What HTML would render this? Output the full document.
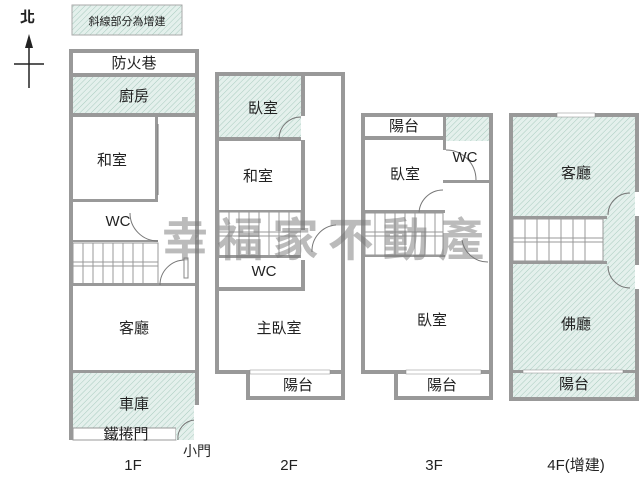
<!DOCTYPE html>
<html><head><meta charset="utf-8"><style>
html,body{margin:0;padding:0;background:#fff;}
svg{display:block;}
text{font-family:"Liberation Sans","Noto Sans CJK TC",sans-serif;fill:#222;}
</style></head><body>
<svg width="640" height="480" viewBox="0 0 640 480" xmlns="http://www.w3.org/2000/svg">
<defs>
<pattern id="h" width="4" height="4" patternUnits="userSpaceOnUse" patternTransform="rotate(45)">
<rect width="4" height="4" fill="#e4f0ec"/><line x1="0" y1="0" x2="0" y2="4" stroke="#a9cbbf" stroke-width="1"/>
</pattern>
</defs>

<!-- north arrow -->
<text x="20" y="22" font-size="15" font-weight="bold">北</text>
<line x1="29" y1="38" x2="29" y2="88" stroke="#222" stroke-width="1.5"/>
<polygon points="29,34 25,48 33,48" fill="#222"/>
<line x1="14" y1="64" x2="44" y2="64" stroke="#222" stroke-width="1.5"/>

<!-- legend -->
<rect x="72" y="5" width="110" height="30" fill="url(#h)" stroke="#aaa"/>
<text x="127" y="25" font-size="11" text-anchor="middle" fill="#333">斜線部分為增建</text>

<!-- ===== 1F ===== -->
<rect x="69" y="49" width="130" height="391" fill="#999"/>
<rect x="73" y="53" width="122" height="20" fill="#fff"/>
<rect x="73" y="77" width="122" height="36" fill="url(#h)"/>
<rect x="73" y="117" width="122" height="169" fill="#fff"/>
<rect x="155" y="117" width="3" height="82" fill="#999"/>
<rect x="73" y="199" width="85" height="3" fill="#999"/>
<rect x="73" y="240" width="85" height="2" fill="#999"/>
<line x1="158" y1="124" x2="158" y2="195" stroke="#777" stroke-width="1"/>
<rect x="73" y="243" width="85" height="42" fill="#fff" stroke="#999" stroke-width="1"/>
<g stroke="#999" stroke-width="1">
<line x1="73" y1="262" x2="158" y2="262"/><line x1="73" y1="266" x2="158" y2="266"/>
<line x1="83" y1="243" x2="83" y2="285"/><line x1="93" y1="243" x2="93" y2="285"/><line x1="103" y1="243" x2="103" y2="285"/>
<line x1="113" y1="243" x2="113" y2="285"/><line x1="123" y1="243" x2="123" y2="285"/><line x1="133" y1="243" x2="133" y2="285"/><line x1="143" y1="243" x2="143" y2="285"/>
</g>
<rect x="73" y="283" width="122" height="3" fill="#999"/>
<rect x="73" y="286" width="122" height="84" fill="#fff"/>
<path d="M158 241 A28 28 0 0 1 130 213" fill="none" stroke="#777"/>
<path d="M160 285 A25 25 0 0 1 185 260" fill="none" stroke="#777"/>
<rect x="184" y="258" width="4" height="20" fill="#fff" stroke="#888"/>
<rect x="73" y="373" width="122" height="56" fill="url(#h)"/>
<rect x="73" y="428" width="103" height="12" fill="#fff" stroke="#999"/>
<rect x="176" y="425" width="19" height="15" fill="url(#h)"/>
<path d="M178 440 A18 18 0 0 1 195 420" fill="none" stroke="#777"/>
<rect x="194" y="405" width="5" height="35" fill="#fff"/>
<text x="134" y="68" font-size="15" text-anchor="middle">防火巷</text>
<text x="134" y="101" font-size="15" text-anchor="middle">廚房</text>
<text x="112" y="165" font-size="15" text-anchor="middle">和室</text>
<text x="118" y="226" font-size="15" text-anchor="middle">WC</text>
<text x="134" y="333" font-size="15" text-anchor="middle">客廳</text>
<text x="134" y="409" font-size="15" text-anchor="middle">車庫</text>
<text x="126" y="439" font-size="15" text-anchor="middle">鐵捲門</text>
<text x="197" y="456" font-size="14" text-anchor="middle">小門</text>
<text x="133" y="470" font-size="15" text-anchor="middle">1F</text>

<!-- ===== 2F ===== -->
<rect x="215" y="72" width="130" height="302" fill="#999"/>
<rect x="219" y="76" width="122" height="294" fill="#fff"/>
<rect x="219" y="76" width="82" height="61" fill="url(#h)"/>
<rect x="301" y="76" width="4" height="215" fill="#999"/>
<rect x="219" y="137" width="86" height="4" fill="#999"/>
<rect x="301" y="116" width="4" height="24" fill="#fff"/>
<path d="M301 117 A22 22 0 0 0 279 139" fill="none" stroke="#777"/>
<rect x="219" y="210" width="86" height="2" fill="#999"/>
<rect x="219" y="212" width="82" height="44" fill="#fff" stroke="#999"/>
<g stroke="#999" stroke-width="1">
<line x1="219" y1="232" x2="301" y2="232"/><line x1="219" y1="236" x2="301" y2="236"/>
<line x1="229" y1="212" x2="229" y2="256"/><line x1="239" y1="212" x2="239" y2="256"/><line x1="249" y1="212" x2="249" y2="256"/><line x1="259" y1="212" x2="259" y2="256"/><line x1="269" y1="212" x2="269" y2="256"/><line x1="279" y1="212" x2="279" y2="256"/><line x1="289" y1="212" x2="289" y2="256"/>
</g>
<rect x="219" y="255" width="86" height="3" fill="#999"/>
<rect x="219" y="287" width="86" height="4" fill="#999"/>
<rect x="301" y="230" width="4" height="30" fill="#fff"/>
<path d="M336 225 A26 26 0 0 0 312 252" fill="none" stroke="#777"/>
<rect x="246" y="370" width="99" height="30" fill="#999"/>
<rect x="250" y="374" width="91" height="22" fill="#fff"/>
<rect x="250" y="370" width="80" height="4" fill="#fff" stroke="#888" stroke-width="0.5"/>
<text x="263" y="113" font-size="15" text-anchor="middle">臥室</text>
<text x="258" y="181" font-size="15" text-anchor="middle">和室</text>
<text x="264" y="276" font-size="15" text-anchor="middle">WC</text>
<text x="279" y="333" font-size="15" text-anchor="middle">主臥室</text>
<text x="298" y="390" font-size="15" text-anchor="middle">陽台</text>
<text x="289" y="470" font-size="15" text-anchor="middle">2F</text>

<!-- ===== 3F ===== -->
<rect x="361" y="113" width="132" height="261" fill="#999"/>
<rect x="365" y="117" width="124" height="253" fill="#fff"/>
<rect x="443" y="117" width="3" height="66" fill="#999"/>
<rect x="365" y="136" width="78" height="4" fill="#999"/>
<rect x="446" y="117" width="43" height="24" fill="url(#h)"/>
<rect x="446" y="180" width="43" height="3" fill="#999"/>
<rect x="443" y="150" width="3" height="30" fill="#fff"/>
<path d="M446 150 A30 30 0 0 1 476 180" fill="none" stroke="#777"/>
<rect x="365" y="210" width="80" height="3" fill="#999"/>
<path d="M443 190 A24 24 0 0 0 419 214" fill="none" stroke="#777"/>
<rect x="365" y="213" width="78" height="42" fill="#fff" stroke="#999"/>
<g stroke="#999" stroke-width="1">
<line x1="365" y1="232" x2="443" y2="232"/><line x1="365" y1="236" x2="443" y2="236"/>
<line x1="375" y1="213" x2="375" y2="255"/><line x1="385" y1="213" x2="385" y2="255"/><line x1="395" y1="213" x2="395" y2="255"/><line x1="405" y1="213" x2="405" y2="255"/><line x1="415" y1="213" x2="415" y2="255"/><line x1="425" y1="213" x2="425" y2="255"/><line x1="435" y1="213" x2="435" y2="255"/>
</g>
<rect x="365" y="255" width="80" height="2" fill="#999"/>
<path d="M488 262 A26 26 0 0 1 462 240" fill="none" stroke="#777"/>
<rect x="394" y="370" width="99" height="30" fill="#999"/>
<rect x="398" y="374" width="91" height="22" fill="#fff"/>
<rect x="406" y="370" width="75" height="4" fill="#fff" stroke="#888" stroke-width="0.5"/>
<text x="404" y="131" font-size="15" text-anchor="middle">陽台</text>
<text x="465" y="162" font-size="15" text-anchor="middle">WC</text>
<text x="405" y="179" font-size="15" text-anchor="middle">臥室</text>
<text x="432" y="325" font-size="15" text-anchor="middle">臥室</text>
<text x="442" y="390" font-size="15" text-anchor="middle">陽台</text>
<text x="434" y="470" font-size="15" text-anchor="middle">3F</text>

<!-- ===== 4F ===== -->
<rect x="509" y="113" width="130" height="288" fill="#999"/>
<rect x="513" y="117" width="122" height="280" fill="url(#h)"/>
<rect x="557" y="113" width="38" height="4" fill="#fff" stroke="#888" stroke-width="0.5"/>
<rect x="513" y="216" width="94" height="3" fill="#999"/>
<rect x="513" y="219" width="90" height="42" fill="#fff" stroke="#999"/>
<g stroke="#999" stroke-width="1">
<line x1="513" y1="238" x2="603" y2="238"/><line x1="513" y1="242" x2="603" y2="242"/>
<line x1="525" y1="219" x2="525" y2="261"/><line x1="537" y1="219" x2="537" y2="261"/><line x1="549" y1="219" x2="549" y2="261"/><line x1="561" y1="219" x2="561" y2="261"/><line x1="573" y1="219" x2="573" y2="261"/><line x1="585" y1="219" x2="585" y2="261"/>
</g>
<rect x="513" y="261" width="94" height="3" fill="#999"/>
<path d="M630 193 A22 22 0 0 0 608 215" fill="none" stroke="#777"/>
<path d="M630 288 A22 22 0 0 1 608 266" fill="none" stroke="#777"/>
<rect x="635" y="192" width="4" height="24" fill="#fff"/>
<rect x="635" y="265" width="4" height="24" fill="#fff"/>
<rect x="513" y="370" width="122" height="3" fill="#999"/>
<rect x="523" y="370" width="100" height="3" fill="#fff" stroke="#888" stroke-width="0.5"/>
<text x="576" y="178" font-size="15" text-anchor="middle">客廳</text>
<text x="576" y="329" font-size="15" text-anchor="middle">佛廳</text>
<text x="574" y="389" font-size="15" text-anchor="middle">陽台</text>
<text x="576" y="470" font-size="15" text-anchor="middle">4F(增建)</text>

<!-- watermark -->
<text x="162" y="256" font-size="46" font-weight="bold" textLength="322" lengthAdjust="spacing" style="fill:#777;fill-opacity:0.5;font-family:'Noto Sans CJK TC',sans-serif">幸福家不動產</text>
</svg>
</body></html>
